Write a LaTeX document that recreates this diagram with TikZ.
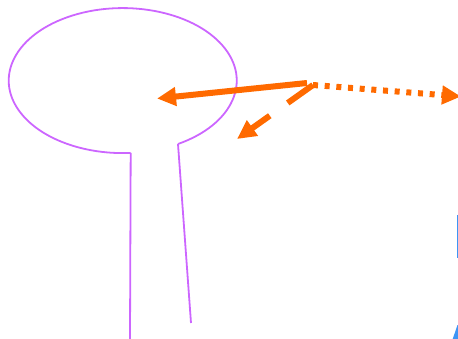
\documentclass[tikz,border=0pt]{standalone}
\usetikzlibrary{arrows.meta}
\definecolor{lilac}{HTML}{CC66FF}
\definecolor{orng}{HTML}{FF6A00}
\definecolor{blu}{HTML}{3D95F5}
\tikzset{
  outline/.style={draw=lilac, line width=1.8pt},
  pointer/.style={draw=orng, line width=6pt, -{Triangle[length=19pt,width=18pt]}},
}
\begin{document}
\begin{tikzpicture}[x=1pt,y=-1pt]
\useasboundingbox (0,0) rectangle (458,339);
% head outline
\draw[outline] (178,144) arc[start angle=61, end angle=-274, x radius=114, y radius=72.5] coordinate (arcend);
\draw[outline] (arcend) -- (130,339);
\draw[outline] (178,144) -- (191,323);
% arrows
\coordinate (s1) at (307,83);
\coordinate (s2) at (313,85);
\coordinate (t1) at (157,98.5);
\coordinate (t2) at (237,139);
\coordinate (t3) at (461,96.5);
\draw[pointer] (s1) -- (t1);
\draw[pointer, dash pattern=on 31pt off 22pt] (s2) -- (t2);
\draw[pointer, dash pattern=on 5pt off 6.7pt] (s2) -- (t3);
% blue fragments at the edge
\coordinate (b1) at (457.3,215);
\coordinate (b2) at (457.3,258);
\draw[blu, line width=1.5pt] (b1) -- (b2);
\fill[blu] (452.7,339) -- (457.5,325) -- (458,325) -- (458,339) -- cycle;
\end{tikzpicture}
\end{document}
